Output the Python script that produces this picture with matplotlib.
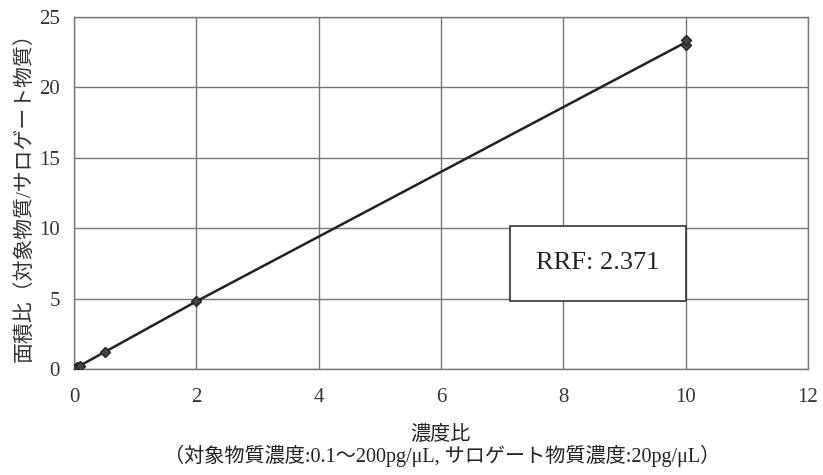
import matplotlib
matplotlib.use('Agg')
import matplotlib.pyplot as plt

# concentration ratio (replicates) and area ratio
conc_ratio = [0.005, 0.05, 0.1, 0.5, 2, 10, 10]
area_ratio = [0.02, 0.12, 0.24, 1.2, 4.8, 23.0, 23.4]
line_x = [0.005, 0.05, 0.1, 0.5, 2, 10]
line_y = [0.02, 0.12, 0.24, 1.2, 4.8, 23.2]
rrf_text = 'RRF: 2.371'

fonts = ['Liberation Serif', 'Noto Sans CJK JP']
plt.rcParams['font.family'] = fonts

fig = plt.figure(figsize=(8.23, 4.75), dpi=100)
ax = fig.add_axes([0.0899, 0.2232, 0.8919, 0.741])

ax.plot(line_x, line_y, color='#222222', linewidth=1.8, zorder=3)
ax.plot(conc_ratio, area_ratio, linestyle='none', marker='D', markersize=5,
        color='#444444', markeredgecolor='#222222', zorder=4)

ax.set_xlim(0, 12)
ax.set_ylim(0, 25)
ax.set_xticks(range(0, 13, 2))
ax.set_yticks(range(0, 26, 5))
ax.grid(color='#777777', linewidth=1.0)
ax.set_axisbelow(True)
for s in ax.spines.values():
    s.set_color('#777777')
    s.set_linewidth(1.0)
ax.tick_params(length=0, labelsize=15, colors='#333333')
ax.tick_params(axis='x', pad=14)
ax.tick_params(axis='y', pad=10)

ax.text(8.57, 7.5, rrf_text, fontsize=19, ha='center', va='center', color='#222222',
        bbox=dict(boxstyle='square,pad=1.0', facecolor='white', edgecolor='#333333', linewidth=1.2),
        zorder=5)

fig.text(0.030, 0.595, '面積比（対象物質/サロゲート物質）', rotation=90, ha='center', va='center',
         fontsize=15, color='#333333')
fig.text(0.535, 0.083, '濃度比', ha='center', va='center', fontsize=14.5, color='#222222')
fig.text(0.537, 0.040, '（対象物質濃度:0.1～200pg/μL, サロゲート物質濃度:20pg/μL）',
         ha='center', va='center', fontsize=14.5, color='#222222')

fig.savefig('out.png', dpi=100)
